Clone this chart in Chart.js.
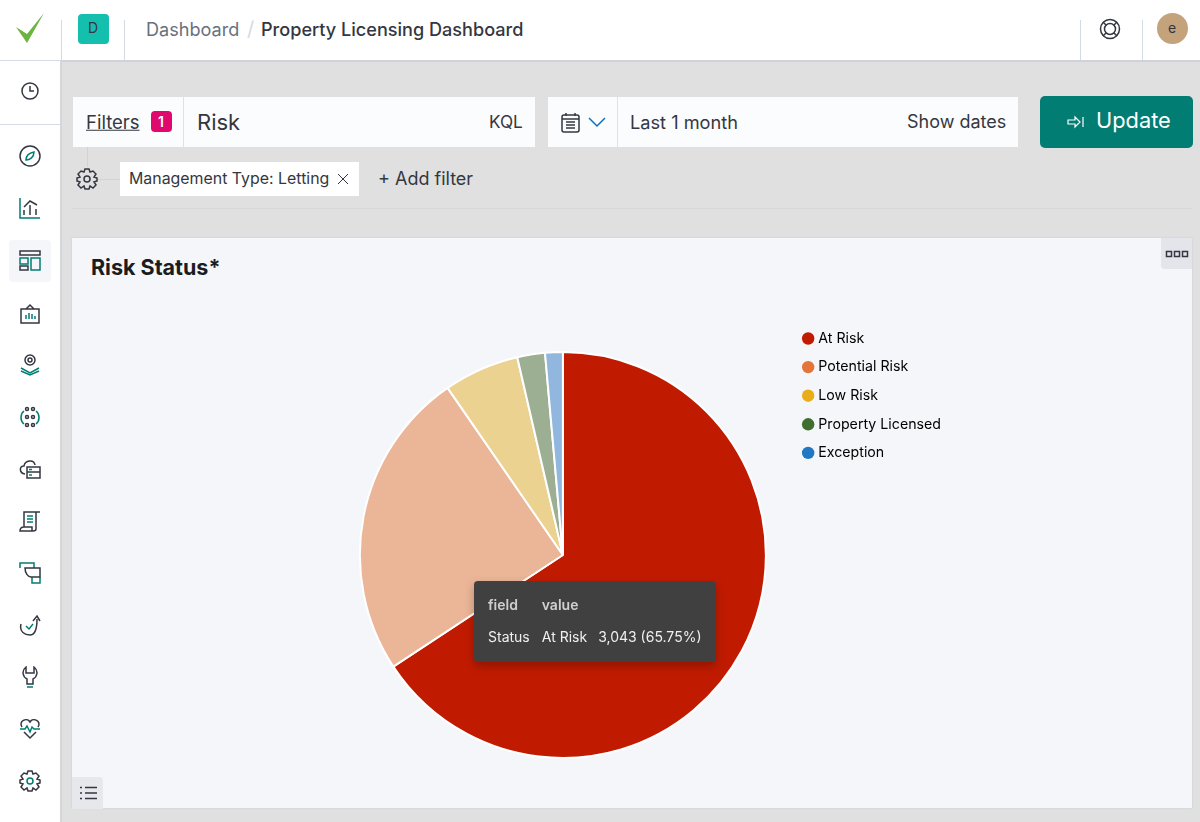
<!DOCTYPE html>
<html lang="en">
<head>
<meta charset="UTF-8">
<title>Property Licensing Dashboard</title>
<script src="https://cdn.jsdelivr.net/npm/chart.js"></script>
<style>
html, body { margin: 0; padding: 0; }
body { width: 1200px; height: 822px; position: relative; overflow: hidden; background: #e0e0e0; font-family: Inter, "Noto Sans", sans-serif; color: #343741; }
.abs { position: absolute; white-space: nowrap; }
.box { position: absolute; }
.txt { position: absolute; white-space: nowrap; transform: translateY(-50%); line-height: 1; }
svg { position: absolute; fill: none; stroke: #343741; stroke-width: 1.5; }
svg .g { stroke: #017d73; }
#chartWrap { position: absolute; left: 335px; top: 317px; width: 616px; height: 476px; }
#tip td { padding: 0 11px 0 0; white-space: nowrap; }
#tip td:first-child { padding-right: 12px; }
#tip td:last-child { padding-right: 0; }
#tip th { padding: 0 12px 15px 0; text-align: left; font-weight: 600; color: #cfcfcf; }
</style>
</head>
<body>
<!-- header + sidebar -->
<div class="box" style="left:0;top:0;width:1200px;height:60px;background:#fff;border-bottom:2px solid #cfd2da"></div>
<div class="box" style="left:0;top:60px;width:60px;height:762px;background:#fff;border-right:2px solid #d5d6d9"></div>
<div class="box" style="left:0;top:60px;width:61px;height:1px;background:#d3dae6"></div>
<div class="box" style="left:0;top:124px;width:61px;height:1px;background:#d3dae6"></div>
<div class="box" style="left:61px;top:20px;width:1px;height:40px;background:#d3dae6"></div>
<div class="box" style="left:124px;top:20px;width:1px;height:40px;background:#d3dae6"></div>
<div class="box" style="left:1080px;top:20px;width:1px;height:40px;background:#d3dae6"></div>
<div class="box" style="left:1142px;top:20px;width:1px;height:40px;background:#d3dae6"></div>
<svg style="left:14px;top:10px;stroke:none" width="32" height="36"><path d="M2 17 L13 33 L30 3 L13 24 Z" style="fill:#6cb33f;stroke:none"/></svg>
<div class="box" style="left:78px;top:14px;width:31px;height:30px;background:#14bfae;border-radius:4px"></div>
<div class="txt" style="left:88px;top:28px;font-size:14px">D</div>
<div class="txt" style="left:146px;top:29px;font-size:18.1px;color:#69707d">Dashboard</div>
<div class="txt" style="left:247px;top:29px;font-size:20px;color:#d3dae6">/</div>
<div class="txt" style="left:261px;top:29px;font-size:18.1px;font-weight:500">Property Licensing Dashboard</div>
<svg style="left:1099px;top:18px" width="22" height="22"><circle cx="11" cy="11" r="9.5"/><circle cx="11" cy="11" r="5.5"/><path d="M4 4 L7 7 M18 4 L15 7 M4 18 L7 15 M18 18 L15 15"/></svg>
<div class="box" style="left:1157px;top:13px;width:31px;height:31px;background:#c4a27c;border-radius:50%"></div>
<div class="txt" style="left:1168px;top:28px;font-size:14px">e</div>

<!-- sidebar icons -->
<div class="box" style="left:9px;top:240px;width:42px;height:42px;background:#f5f6f9;border-radius:4px"></div>
<svg style="left:20px;top:81px" width="20" height="20"><circle cx="10" cy="10" r="8"/><path d="M10 5 V10 H14"/></svg>
<svg style="left:19px;top:145px" width="22" height="22"><circle cx="11" cy="11" r="10"/><path class="g" d="M15 7 C15 12 11 15 7 15 C7 11 10 8 15 7 Z"/></svg>
<svg style="left:19px;top:197px" width="22" height="22"><path class="g" d="M1 1 V21 H21"/><path d="M5 10 L11 4 L18 8 M5 13 V18 M11 8 V18 M17 12 V18"/></svg>
<svg style="left:19px;top:250px" width="22" height="22"><rect x="1" y="1" width="20" height="4"/><rect class="g" x="1" y="8" width="8" height="6"/><rect x="1" y="16" width="8" height="4"/><rect class="g" x="12" y="8" width="9" height="12"/></svg>
<svg style="left:19px;top:303px" width="22" height="22"><path d="M2 6 H20 V20 H2 Z M7 6 L11 2 L15 6"/><path class="g" d="M7 16 V12 M10 16 V10 M13 16 V11 M16 16 V13"/></svg>
<svg style="left:19px;top:354px" width="22" height="22"><circle cx="11" cy="6" r="5"/><circle cx="11" cy="6" r="2"/><path class="g" d="M2 14 L11 19 L20 14 M2 17 L11 21 L20 17"/></svg>
<svg style="left:19px;top:406px" width="22" height="22"><path class="g" d="M5 5 C1 8 1 15 5 18 M17 5 C21 8 21 15 17 18"/><circle cx="8" cy="3" r="1.5"/><circle cx="14" cy="3" r="1.5"/><circle cx="8" cy="11" r="1.5"/><circle cx="14" cy="11" r="1.5"/><circle cx="8" cy="19" r="1.5"/><circle cx="14" cy="19" r="1.5"/></svg>
<svg style="left:19px;top:458px" width="22" height="22"><path d="M6 16 C0 15 0 8 5 8 C6 2 15 1 16 7"/><rect x="8" y="9" width="13" height="11"/><path d="M8 14 H21"/><path class="g" d="M10 11.5 H13 M10 17 H13"/></svg>
<svg style="left:19px;top:510px" width="22" height="22"><path d="M5 17 V2 H21 M17 2 V19 C17 21 15 21 14 21 H1 C1 18 3 17 5 17 H13 V21"/><path class="g" d="M8 6 H14 M8 9 H14 M8 12 H14"/></svg>
<svg style="left:19px;top:562px" width="22" height="22"><path class="g" d="M1 6 V1 H15 V6 M13 15 V21 H21 V15"/><path d="M6 6 H21 V15 H12 C9 15 6 11 6 6 Z"/></svg>
<svg style="left:19px;top:614px" width="22" height="22"><path d="M2 10 C0 18 6 21 11 21 C16 21 18 16 18 5 M14 7 L18 2 L21 7"/><path class="g" d="M7 12 L10 15 L14 10"/></svg>
<svg style="left:19px;top:666px" width="22" height="22"><path d="M7 1 C2 5 4 11 8 13 V18 H14 V13 C18 11 20 5 15 1 V7 H7 Z"/><path class="g" d="M8 21 H14"/></svg>
<svg style="left:19px;top:718px" width="22" height="22"><path d="M3 9 C-1 3 8 -1 11 4 C14 -1 23 3 19 9 M5 14 L11 20 L17 14"/><path class="g" d="M1 11 H6 L8 8 L11 14 L13 9 L15 11 H21"/></svg>
<svg style="left:19px;top:770px" width="22" height="22"><circle cx="11" cy="11" r="3" class="g"/><path d="M9 1 H13 L14 4 L17 3 L20 6 L18 9 L21 10 V13 L18 14 L20 17 L17 20 L14 18 L13 21 H9 L8 18 L5 20 L2 17 L4 14 L1 13 V10 L4 9 L2 6 L5 3 L8 4 Z"/></svg>

<!-- query bar -->
<div class="box" style="left:73px;top:97px;width:462px;height:50px;background:#fbfcfd"></div>
<div class="box" style="left:183px;top:97px;width:1px;height:50px;background:#dfe1e6"></div>
<div class="txt" style="left:86px;top:122px;font-size:18.5px;text-decoration:underline">Filters</div>
<div class="box" style="left:151px;top:111px;width:21px;height:21px;background:#e0086c;border-radius:4px"></div>
<div class="txt" style="left:158px;top:122px;font-size:14px;font-weight:600;color:#fff">1</div>
<div class="txt" style="left:197px;top:122px;font-size:22px">Risk</div>
<div class="txt" style="left:489px;top:122px;font-size:17.2px">KQL</div>
<div class="box" style="left:548px;top:97px;width:470px;height:50px;background:#fbfcfd"></div>
<div class="box" style="left:617px;top:97px;width:1px;height:50px;background:#dfe1e6"></div>
<svg style="left:561px;top:112px" width="20" height="21"><rect x="1" y="3" width="17" height="17" rx="2"/><path d="M1 7 H18 M5 1 V4 M14 1 V4 M5 10 H14 M5 13 H14 M5 16 H14" /></svg>
<svg style="left:588px;top:116px" width="18" height="12"><path d="M1 2 L9 10 L17 2" style="stroke:#0f6fbf"/></svg>
<div class="txt" style="left:630px;top:122px;font-size:18.2px">Last 1 month</div>
<div class="txt" style="left:907px;top:122px;font-size:18px">Show dates</div>
<div class="box" style="left:1040px;top:96px;width:153px;height:52px;background:#017d73;border-radius:5px"></div>
<svg style="left:1067px;top:115px" width="18" height="14"><path d="M1 5 H8 V2 L13 7 L8 12 V9 H1 Z M16 2 V12" style="stroke:#fff;stroke-width:1.2"/></svg>
<div class="txt" style="left:1096px;top:121px;font-size:21.8px;color:#fff">Update</div>

<!-- filter row -->
<div class="box" style="left:87px;top:147px;width:1px;height:20px;background:#d3d3d3"></div>
<div class="box" style="left:98px;top:179px;width:22px;height:1px;background:#d3d3d3"></div>
<svg style="left:76px;top:168px" width="22" height="22"><circle cx="11" cy="11" r="3"/><path d="M9 1 H13 L14 4 L17 3 L20 6 L18 9 L21 10 V13 L18 14 L20 17 L17 20 L14 18 L13 21 H9 L8 18 L5 20 L2 17 L4 14 L1 13 V10 L4 9 L2 6 L5 3 L8 4 Z"/></svg>
<div class="box" style="left:120px;top:162px;width:239px;height:34px;background:#fff"></div>
<div class="txt" style="left:129px;top:179px;font-size:15.9px">Management Type: Letting</div>
<svg style="left:337px;top:173px;stroke-width:1" width="12" height="12"><path d="M1 1 L11 11 M11 1 L1 11"/></svg>
<div class="txt" style="left:378px;top:179px;font-size:18px">+ Add filter</div>
<div class="box" style="left:72px;top:208px;width:1120px;height:1px;background:#d8d8d8"></div>

<!-- panel -->
<div class="box" style="left:72px;top:238px;width:1120px;height:570px;background:#f4f6f9;box-shadow:0 0 2px #c6cad1"></div>
<div class="txt" style="left:91px;top:268px;font-size:21.5px;font-weight:700;color:#1a1c21">Risk Status*</div>
<div class="box" style="left:1161px;top:238px;width:31px;height:31px;background:#e3e5ea;border-radius:0 0 0 4px"></div>
<svg style="left:1165px;top:250px" width="24" height="8"><path d="M1.5 1.5 H6.5 V6.5 H1.5 Z M9.5 1.5 H14.5 V6.5 H9.5 Z M17.5 1.5 H22.5 V6.5 H17.5 Z"/></svg>
<div class="box" style="left:72px;top:777px;width:31px;height:32px;background:#e6e8ec;border-radius:0 4px 0 0"></div>
<svg style="left:80px;top:786px" width="17" height="14"><path d="M0 1.5 H2 M0 7 H2 M0 12.5 H2 M5 1.5 H17 M5 7 H17 M5 12.5 H17"/></svg>

<div id="chartWrap"><canvas id="riskChart"></canvas></div>

<!-- tooltip -->
<div id="tip" class="abs" style="left:474px;top:581px;width:214px;height:81px;padding:0 14px;background:#404040;border-radius:4px;box-shadow:0 4px 10px rgba(0,0,0,.25);color:#f0f0f0;font-size:14px;box-sizing:content-box">
  <table style="border-collapse:collapse;margin-top:15px;color:#f0f0f0;font-size:14px;font-family:inherit">
    <tr><th id="tipHeadA"></th><th id="tipHeadB"></th><th></th></tr>
    <tr><td id="tipField"></td><td id="tipName"></td><td id="tipValue"></td></tr>
  </table>
</div>

<script>
const categories = ["At Risk", "Potential Risk", "Low Risk", "Property Licensed", "Exception"];
const counts = [3043, 1141, 278, 102, 65];
// the tooltip is hovering At Risk, so the other slices are drawn faded
const sliceColors = ["#C01B00", "#EBB598", "#EBD291", "#9DAF93", "#92B7DE"];
const legendColors = ["#C01B00", "#E4743A", "#E9AE17", "#3F6E2F", "#1F78C1"];
const tooltipHead = ["field", "value"];
const tooltipField = "Status";
const tooltipPercent = "65.75%";

const config = {
  type: "pie",
  data: {
    labels: categories,
    datasets: [{
      data: counts,
      backgroundColor: sliceColors,
      borderColor: "#ffffff",
      borderWidth: 2
    }]
  },
  options: {
    responsive: true,
    maintainAspectRatio: false,
    animation: false,
    radius: 203,
    events: [],
    plugins: {
      tooltip: { enabled: false },
      legend: {
        position: "right",
        align: "start",
        labels: {
          usePointStyle: true,
          pointStyle: "circle",
          boxWidth: 6,
          boxHeight: 8.8, // point radius comes out at boxHeight * 0.707
          padding: 14.4,
          color: "#646a77",
          font: { family: "Inter", size: 14.2 },
          generateLabels: function (chart) {
            return categories.map(function (name, i) {
              return { text: name, fillStyle: legendColors[i], strokeStyle: legendColors[i], lineWidth: 0, pointStyle: "circle", index: i };
            });
          }
        }
      }
    }
  }
};
new Chart(document.getElementById("riskChart"), config);

document.getElementById("tipHeadA").textContent = tooltipHead[0];
document.getElementById("tipHeadB").textContent = tooltipHead[1];
document.getElementById("tipField").textContent = tooltipField;
document.getElementById("tipName").textContent = categories[0];
document.getElementById("tipValue").textContent = counts[0].toLocaleString("en-US") + " (" + tooltipPercent + ")";
</script>
</body>
</html>
